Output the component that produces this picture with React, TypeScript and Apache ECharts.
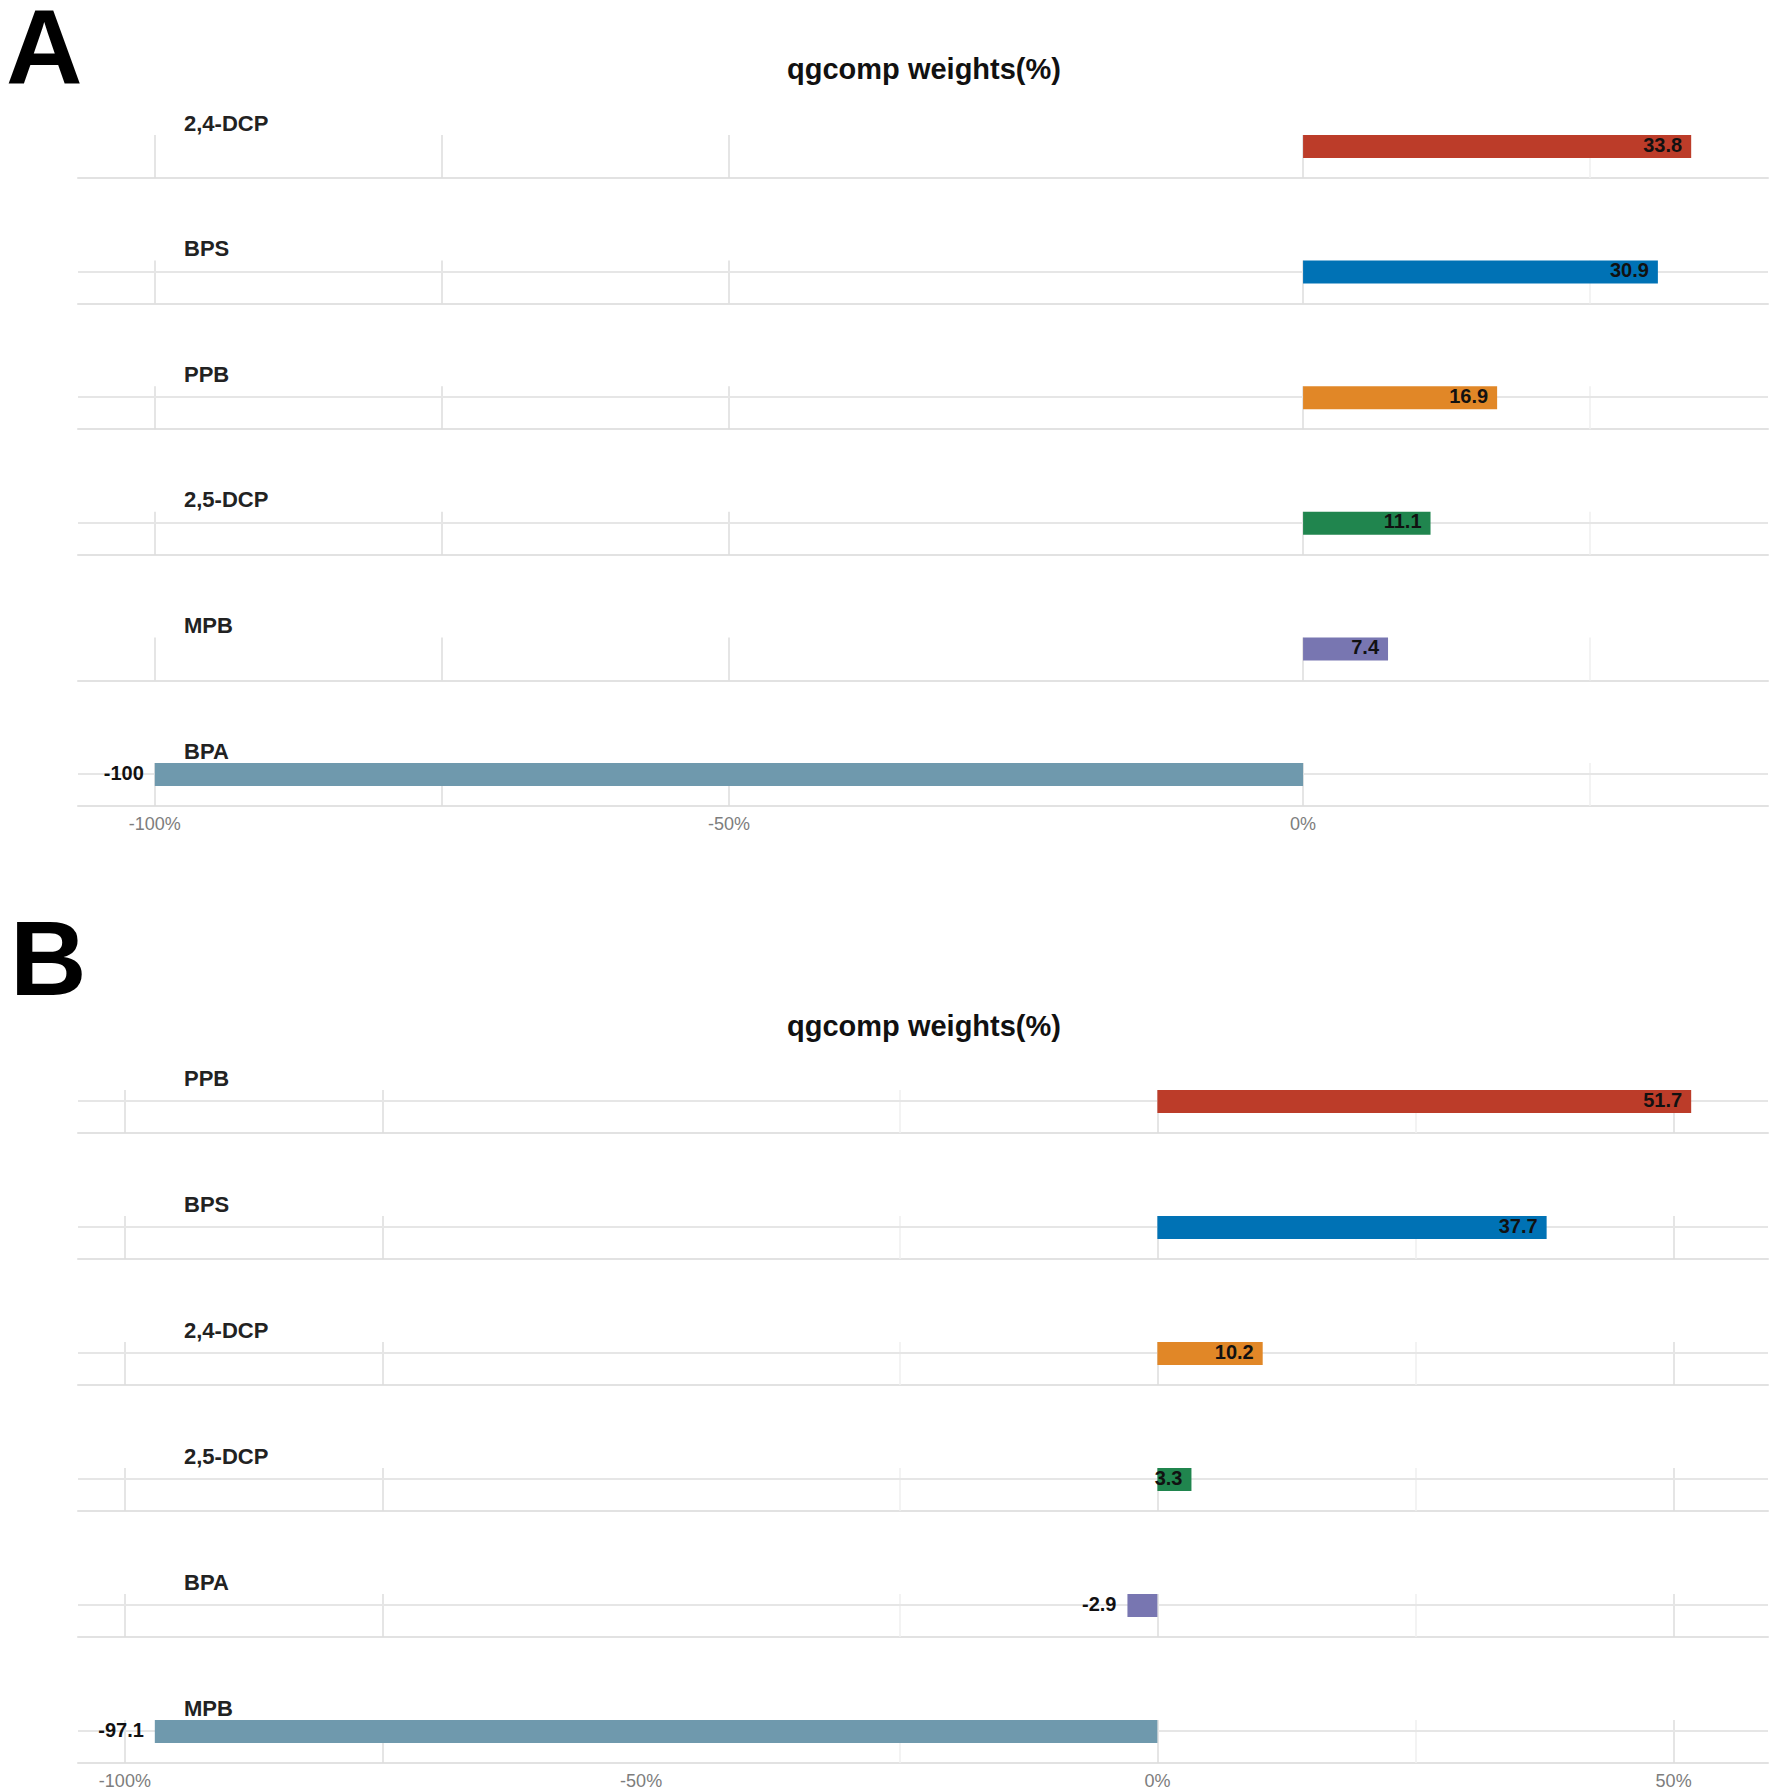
import React, { useEffect, useRef } from "react";
import * as echarts from "echarts";

// ---------- data ----------
const panelALabels = ["2,4-DCP", "BPS", "PPB", "2,5-DCP", "MPB", "BPA"];
const panelAValues = [33.8, 30.9, 16.9, 11.1, 7.4, -100];
const panelBLabels = ["PPB", "BPS", "2,4-DCP", "2,5-DCP", "BPA", "MPB"];
const panelBValues = [51.7, 37.7, 10.2, 3.3, -2.9, -97.1];
const panelTitle = "qgcomp weights(%)";
const panelLetters = ["A", "B"];
const panelATicks = [-100, -50, 0];
const panelBTicks = [-100, -50, 0, 50];
const panelAMajorLines = [-100, -75, -50, 0];
const panelAMinorLines = [25];
const panelBMajorLines = [-100, -75, 0, 50];
const panelBMinorLines = [-25, 25];

// ---------- styles / layout ----------
const rowColors = ["#BC3C29", "#0072B5", "#E18727", "#20854E", "#7876B1", "#6F99AD"];
const FONT = "'Liberation Sans', Arial, Helvetica, sans-serif";
const W = 1772;
const H = 1792;
const GRID_LEFT = 78;
const GRID_RIGHT = W - 1768;
const PANEL_H = 43;
const BAR_W = 24.5;

interface PanelSpec {
  labels: string[];
  values: number[];
  ticks: number[];
  major: number[];
  minor: number[];
  firstBottom: number;
  step: number;
  centerLines: boolean[];
}

function buildPanel(spec: PanelSpec, gridOffset: number) {
  const lo = Math.min(0, ...spec.values);
  const hi = Math.max(0, ...spec.values);
  const pad = (hi - lo) * 0.05;
  const min = lo - pad;
  const max = hi + pad;
  const grids: any[] = [];
  const xAxes: any[] = [];
  const yAxes: any[] = [];
  const series: any[] = [];
  const texts: any[] = [];
  const n = spec.labels.length;
  spec.labels.forEach((label, i) => {
    const bottom = spec.firstBottom + i * spec.step;
    const gi = gridOffset + i;
    const isLast = i === n - 1;
    grids.push({ left: GRID_LEFT, right: GRID_RIGHT, top: bottom - PANEL_H, height: PANEL_H });
    xAxes.push({
      type: "value",
      gridIndex: gi,
      min,
      max,
      splitLine: { show: false },
      axisTick: { show: false },
      axisLine: { show: true, onZero: false, lineStyle: { color: "#e2e2e2", width: 2 } },
      axisLabel: isLast
        ? {
            show: true,
            customValues: spec.ticks,
            formatter: (v: number) => `${v}%`,
            color: "#7d7d7d",
            fontSize: 18,
            fontFamily: FONT,
            margin: 9,
          }
        : { show: false },
    });
    yAxes.push({
      type: "category",
      gridIndex: gi,
      data: [label, " "],
      inverse: true,
      show: false,
    });
    const v = spec.values[i];
    const lineData: any[] = [
      ...spec.major.map((x) => ({ xAxis: x, lineStyle: { color: "#dcdcdc", width: 1.5, type: "solid" } })),
      ...spec.minor.map((x) => ({ xAxis: x, lineStyle: { color: "#efefef", width: 1.5, type: "solid" } })),
    ];
    if (spec.centerLines[i]) {
      lineData.push({ yAxis: label, lineStyle: { color: "#e6e6e6", width: 2, type: "solid" } });
    }
    series.push({
      type: "bar",
      xAxisIndex: gi,
      yAxisIndex: gi,
      barWidth: BAR_W,
      z: 3,
      data: [
        {
          value: v,
          itemStyle: { color: rowColors[i] },
          label: {
            show: true,
            position: v >= 0 ? "insideRight" : "left",
            distance: v >= 0 ? 9 : 11,
            offset: [0, -2],
            color: "#111",
            fontWeight: "bold",
            fontSize: 20,
            fontFamily: FONT,
            formatter: (p: any) => `${p.value}`,
          },
        },
        null,
      ],
      markLine: {
        silent: true,
        z: 1,
        symbol: ["none", "none"],
        label: { show: false },
        emphasis: { disabled: true },
        data: lineData,
      },
    });
    texts.push({
      type: "text",
      x: 184,
      y: bottom - 55,
      style: {
        text: label,
        fontSize: 22,
        fontWeight: "bold",
        fontFamily: FONT,
        fill: "#222",
        textVerticalAlign: "middle",
        verticalAlign: "middle",
      },
    });
  });
  return { grids, xAxes, yAxes, series, texts };
}

export default function App() {
  const ref = useRef<HTMLDivElement>(null);
  useEffect(() => {
    document.body.style.margin = "0";
    document.body.style.overflow = "hidden";
    if (!ref.current) return;
    const chart = echarts.init(ref.current, undefined, { renderer: "svg", width: W, height: H });

    const a = buildPanel(
      {
        labels: panelALabels,
        values: panelAValues,
        ticks: panelATicks,
        major: panelAMajorLines,
        minor: panelAMinorLines,
        firstBottom: 178,
        step: 125.6,
        centerLines: [false, true, true, true, false, true],
      },
      0
    );
    const b = buildPanel(
      {
        labels: panelBLabels,
        values: panelBValues,
        ticks: panelBTicks,
        major: panelBMajorLines,
        minor: panelBMinorLines,
        firstBottom: 1133,
        step: 126,
        centerLines: [true, true, true, true, true, true],
      },
      panelALabels.length
    );

    const letterStyle = {
      fontSize: 106,
      fontWeight: "bold",
      fontFamily: FONT,
      fill: "#000",
      verticalAlign: "middle",
      textVerticalAlign: "middle",
    };
    const titleStyle = {
      text: panelTitle,
      fontSize: 29,
      fontWeight: "bold",
      fontFamily: FONT,
      fill: "#111",
      align: "center",
      textAlign: "center",
      verticalAlign: "middle",
      textVerticalAlign: "middle",
    };
    const headers: any[] = [
      { type: "text", x: 6, y: 47, style: { ...letterStyle, text: panelLetters[0] } },
      { type: "text", x: 10, y: 958, style: { ...letterStyle, text: panelLetters[1] } },
      { type: "text", x: 924, y: 69, style: titleStyle },
      { type: "text", x: 924, y: 1026, style: titleStyle },
    ];

    chart.setOption({
      animation: false,
      backgroundColor: "#ffffff",
      grid: [...a.grids, ...b.grids],
      xAxis: [...a.xAxes, ...b.xAxes],
      yAxis: [...a.yAxes, ...b.yAxes],
      series: [...a.series, ...b.series],
      graphic: [...headers, ...a.texts, ...b.texts],
    });
    return () => chart.dispose();
  }, []);
  return <div ref={ref} style={{ width: W, height: H }} />;
}
